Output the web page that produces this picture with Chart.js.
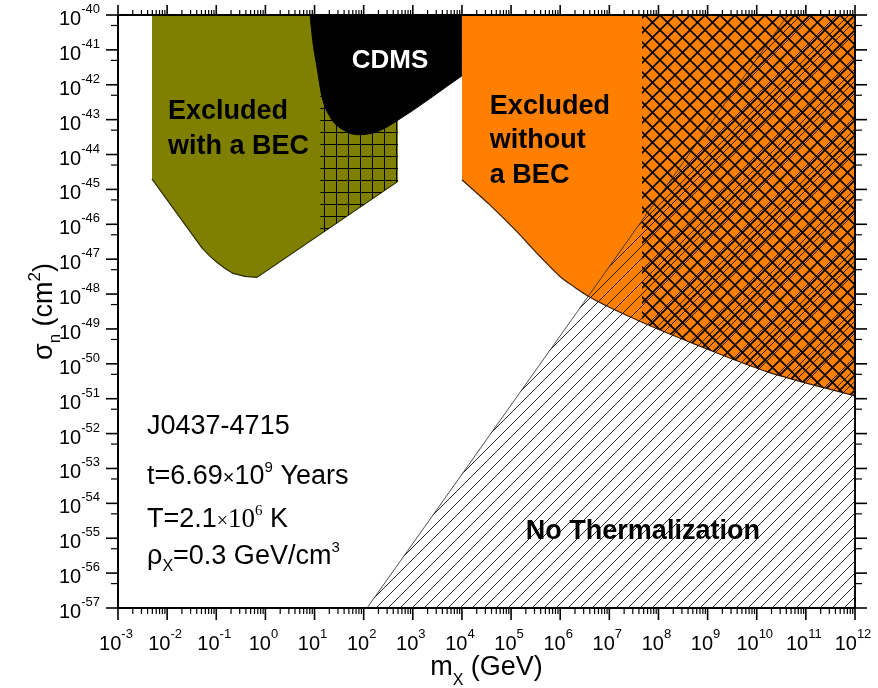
<!DOCTYPE html>
<html>
<head>
<meta charset="utf-8">
<script src="https://cdn.jsdelivr.net/npm/chart.js@4.4.0/dist/chart.umd.min.js"></script>
<style>
  html, body { margin: 0; padding: 0; background: #fff; }
  canvas { display: block; }
</style>
</head>
<body>
<canvas id="chart" width="878" height="688"></canvas>
<script>
// axis ranges: m_x in GeV, sigma_n in cm^2
const massRange = [1e-3, 1e12];
const sigmaRange = [1e-57, 1e-40];
const massTickExp = [-3, -2, -1, 0, 1, 2, 3, 4, 5, 6, 7, 8, 9, 10, 11, 12];
const sigmaTickExp = [-57, -56, -55, -54, -53, -52, -51, -50, -49, -48, -47, -46, -45, -44, -43, -42, -41, -40];

// lower edge of "Excluded with a BEC"
const becMass  = [4.9e-3, 5.1e-2, 7.5e-2, 0.104, 0.151, 0.22, 0.385, 0.67, 500];
const becSigma = [2.0e-45, 2.1e-47, 1.2e-47, 8.0e-48, 5.4e-48, 3.9e-48, 3.2e-48, 3.0e-48, 1.7e-45];
// grid-hatched part of it
const becGridMass  = [13, 500];
const becGridSigma = [5.0e-47, 1.7e-45];

// CDMS lower edge
const cdmsMass  = [8.1, 9.3, 11.2, 14.2, 20.7, 38, 77, 187, 478, 1e4];
const cdmsSigma = [1e-40, 1.6e-41, 3.2e-42, 4.5e-43, 1.2e-43, 5.1e-44, 3.7e-44, 4.5e-44, 9.3e-44, 1.8e-42];

// lower edge of "Excluded without a BEC"
const noBecMass  = [1e4, 3.65e4, 1.2e5, 3.9e5, 9.9e5, 2.0e6, 3.5e6, 4.9e7, 7.0e8, 1.6e10, 1e12];
const noBecSigma = [1.9e-45, 3.65e-46, 7.0e-47, 1.19e-47, 3.2e-48, 1.55e-48, 9.1e-49, 1.5e-49, 3.2e-50, 6.0e-51, 1.2e-51];
// cross-hatched part of it
const crossMass  = [4.6e7, 7.0e8, 1.6e10, 1e12];
const crossSigma = [1.56e-49, 3.2e-50, 6.0e-51, 1.2e-51];

// "No Thermalization" boundary
const thermMass  = [117, 4.3e10, 1e12];
const thermSigma = [1e-57, 1e-40, 1e-40];

// text placed in data coordinates
const regionLabels = [
    { lines: ['Excluded', 'with a BEC'], m: 1.04e-2, s: [1.05e-43, 1.05e-44], color: '#000', align: 'left', size: 27 },
    { lines: ['CDMS'], m: 344, s: [3.0e-42], color: '#fff', align: 'center', size: 26 },
    { lines: ['Excluded', 'without', 'a BEC'], m: 3.7e4, s: [1.47e-43, 1.56e-44, 1.56e-45], color: '#000', align: 'left', size: 27 },
    { lines: ['No Thermalization'], m: 2.0e5, s: [9.4e-56], color: '#000', align: 'left', size: 27 }
];
const infoMass = 3.9e-3;
const infoSigma = [9.5e-53, 3.5e-54, 2.1e-55, 1.8e-56];

const SANS = '"Liberation Sans", Arial, Helvetica, sans-serif';
const SERIF = '"Liberation Serif", "Times New Roman", serif';

const infoLines = [
    [{ t: 'J0437-4715' }],
    [{ t: 't=6.69' }, { t: '\u00d7', s: 20 }, { t: '10' }, { t: '9', s: 15, dy: -12 }, { t: ' Years' }],
    [{ t: 'T=2.1' }, { t: '\u00d7', s: 20, f: SERIF }, { t: '10', f: SERIF }, { t: '6', s: 15, dy: -12, f: SERIF }, { t: ' K' }],
    [{ t: '\u03c1' }, { t: 'X', s: 16, dy: 7 }, { t: '=0.3 GeV/cm' }, { t: '3', s: 15, dy: -12 }]
];

function makePattern(size, draw) {
    const c = document.createElement('canvas');
    c.width = size;
    c.height = size;
    const g = c.getContext('2d');
    draw(g, size);
    return g.createPattern(c, 'repeat');
}
const slash = (g, s) => { for (const k of [-1, 0, 1]) { g.moveTo(k * s, s); g.lineTo(k * s + s, 0); } };
const backslash = (g, s) => { for (const k of [-1, 0, 1]) { g.moveTo(k * s, 0); g.lineTo(k * s + s, s); } };

const gridPattern = makePattern(12, (g, s) => {
    g.strokeStyle = '#000';
    g.lineWidth = 1;
    g.beginPath();
    g.moveTo(0.5, 0); g.lineTo(0.5, s);
    g.moveTo(0, 0.5); g.lineTo(s, 0.5);
    g.stroke();
});
const crossPattern = makePattern(15, (g, s) => {
    g.strokeStyle = '#000';
    g.lineWidth = 1.6;
    g.beginPath();
    slash(g, s);
    backslash(g, s);
    g.stroke();
});
const thermPattern = makePattern(12, (g, s) => {
    g.strokeStyle = '#111';
    g.lineWidth = 0.9;
    g.beginPath();
    slash(g, s);
    g.stroke();
});

const pts = (xs, ys) => xs.map((m, i) => ({ x: m, y: ys[i] }));

// draw a row of text runs (for sub/superscripts)
function drawRuns(ctx, runs, x, y, align, baseSize, weight) {
    let total = 0;
    runs.forEach(r => {
        ctx.font = `${weight || 'normal'} ${r.s || baseSize}px ${r.f || SANS}`;
        r.w = ctx.measureText(r.t).width;
        total += r.w;
    });
    let cx = align === 'center' ? x - total / 2 : align === 'right' ? x - total : x;
    ctx.textAlign = 'left';
    ctx.textBaseline = 'alphabetic';
    runs.forEach(r => {
        ctx.font = `${weight || 'normal'} ${r.s || baseSize}px ${r.f || SANS}`;
        ctx.fillText(r.t, cx, y + (r.dy || 0));
        cx += r.w;
    });
}

const labelPlugin = {
    id: 'labels',
    afterDatasetsDraw(chart) {
        const { ctx, scales: { x, y } } = chart;
        ctx.save();
        regionLabels.forEach(l => {
            ctx.fillStyle = l.color;
            ctx.font = `bold ${l.size}px ${SANS}`;
            ctx.textAlign = l.align;
            ctx.textBaseline = 'alphabetic';
            l.lines.forEach((txt, i) => {
                ctx.fillText(txt, x.getPixelForValue(l.m), y.getPixelForValue(l.s[i]));
            });
        });
        ctx.fillStyle = '#000';
        infoLines.forEach((runs, i) => {
            drawRuns(ctx, runs, x.getPixelForValue(infoMass), y.getPixelForValue(infoSigma[i]), 'left', 27);
        });
        ctx.restore();
    }
};

const axesPlugin = {
    id: 'axes',
    afterDraw(chart) {
        const { ctx, chartArea: a, scales: { x, y } } = chart;
        ctx.save();
        ctx.strokeStyle = '#000';
        ctx.fillStyle = '#000';
        const seg = (x1, y1, x2, y2, w) => {
            ctx.lineWidth = w;
            ctx.beginPath();
            ctx.moveTo(x1, y1);
            ctx.lineTo(x2, y2);
            ctx.stroke();
        };

        // x ticks, bottom and top
        massTickExp.forEach((e, i) => {
            const px = x.getPixelForValue(10 ** e);
            seg(px, a.bottom, px, a.bottom + 12, 1.6);
            seg(px, a.top, px, a.top - 10, 1.6);
            if (i < massTickExp.length - 1) {
                for (let j = 2; j <= 9; j++) {
                    const mp = x.getPixelForValue(j * 10 ** e);
                    seg(mp, a.bottom, mp, a.bottom + 6, 1.2);
                    seg(mp, a.top, mp, a.top - 5, 1.2);
                }
            }
            drawRuns(ctx, [{ t: '10' }, { t: String(e), s: 13, dy: -12 }], px - 2, a.bottom + 42, 'center', 20);
        });

        // y ticks, left and right
        sigmaTickExp.forEach((e, i) => {
            const py = y.getPixelForValue(10 ** e);
            seg(a.left - 12, py, a.left, py, 1.6);
            seg(a.right, py, a.right + 12, py, 1.6);
            if (i > 0) {
                const mp = y.getPixelForValue(5 * 10 ** (e - 1));
                seg(a.left - 7, mp, a.left, mp, 1.2);
                seg(a.right, mp, a.right + 7, mp, 1.2);
            }
            drawRuns(ctx, [{ t: '10' }, { t: String(e), s: 13, dy: -12 }], a.left - 18, py + 10, 'right', 20);
        });

        // frame
        ctx.lineWidth = 2;
        ctx.strokeRect(a.left, a.top, a.right - a.left, a.bottom - a.top);

        // axis titles
        drawRuns(ctx, [{ t: 'm' }, { t: 'X', s: 16, dy: 10 }, { t: ' (GeV)' }], (a.left + a.right) / 2, a.bottom + 67, 'center', 27);
        ctx.save();
        ctx.translate(a.left - 66, (a.top + a.bottom) / 2);
        ctx.rotate(-Math.PI / 2);
        drawRuns(ctx, [{ t: '\u03c3' }, { t: 'n', s: 17, dy: 8 }, { t: ' (cm' }, { t: '2', s: 17, dy: -12 }, { t: ')' }], 0, 0, 'center', 27);
        ctx.restore();
        ctx.restore();
    }
};

const ctx = document.getElementById('chart').getContext('2d');
new Chart(ctx, {
    type: 'line',
    data: {
        datasets: [
            {
                label: 'No Thermalization',
                data: pts(thermMass, thermSigma),
                borderColor: '#222',
                borderWidth: 0.8,
                backgroundColor: thermPattern,
                fill: { value: sigmaRange[0] },
                order: 1
            },
            {
                label: 'Cross hatch',
                data: pts(crossMass, crossSigma),
                borderColor: 'rgba(0,0,0,0)',
                borderWidth: 0,
                backgroundColor: crossPattern,
                cubicInterpolationMode: 'monotone',
                fill: { value: sigmaRange[1] },
                order: 2
            },
            {
                label: 'CDMS',
                data: pts(cdmsMass, cdmsSigma),
                borderColor: '#000',
                borderWidth: 1,
                backgroundColor: '#000',
                cubicInterpolationMode: 'monotone',
                fill: { value: sigmaRange[1] },
                order: 3
            },
            {
                label: 'Grid hatch',
                data: pts(becGridMass, becGridSigma),
                borderColor: 'rgba(0,0,0,0)',
                borderWidth: 0,
                backgroundColor: gridPattern,
                fill: { value: sigmaRange[1] },
                order: 4
            },
            {
                label: 'Excluded with a BEC',
                data: pts(becMass, becSigma),
                borderColor: '#2b2b00',
                borderWidth: 1.2,
                backgroundColor: '#808000',
                fill: { value: sigmaRange[1] },
                order: 5
            },
            {
                label: 'Excluded without a BEC',
                data: pts(noBecMass, noBecSigma),
                borderColor: '#3a1d00',
                borderWidth: 1.2,
                backgroundColor: '#ff8000',
                cubicInterpolationMode: 'monotone',
                fill: { value: sigmaRange[1] },
                order: 6
            }
        ]
    },
    options: {
        responsive: false,
        animation: false,
        layout: { padding: { left: 118, right: 23, top: 15, bottom: 80 } },
        elements: { point: { radius: 0 }, line: { tension: 0 } },
        plugins: { legend: { display: false }, tooltip: { enabled: false } },
        scales: {
            x: { type: 'logarithmic', min: massRange[0], max: massRange[1], display: false },
            y: { type: 'logarithmic', min: sigmaRange[0], max: sigmaRange[1], display: false }
        }
    },
    plugins: [labelPlugin, axesPlugin]
});
</script>
</body>
</html>
